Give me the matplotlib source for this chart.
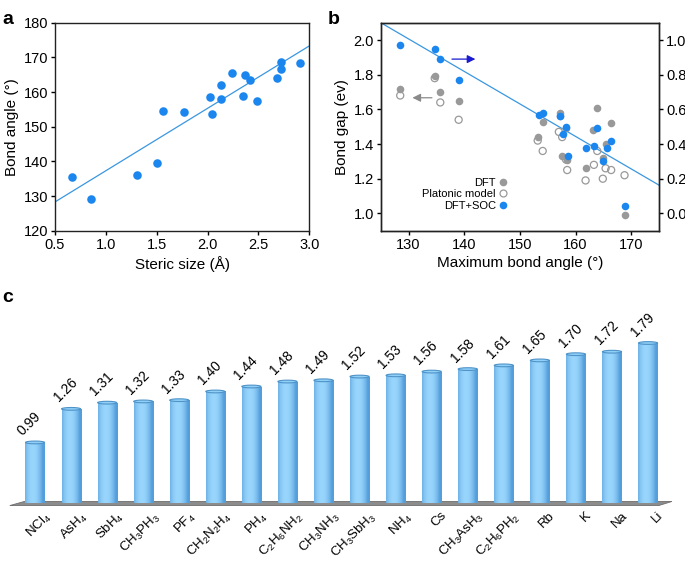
import numpy as np
import matplotlib
matplotlib.use('Agg')
import matplotlib.pyplot as plt
from matplotlib.patches import Polygon, Ellipse
from matplotlib.lines import Line2D

plt.rcParams['font.family'] = ['Liberation Sans', 'DejaVu Sans']
plt.rcParams['mathtext.default'] = 'regular'

# ---- panel a: bond angle vs steric size
steric_size = [0.67, 0.85, 1.31, 1.50, 1.56, 1.77, 2.02, 2.04, 2.13, 2.13, 2.24,
               2.37, 2.42, 2.35, 2.49, 2.68, 2.72, 2.72, 2.91]
bond_angle = [135.4, 129.1, 136.2, 139.5, 154.5, 154.3, 158.5, 153.6, 162.0, 157.9,
              165.6, 165.0, 163.4, 158.8, 157.4, 164.0, 168.8, 166.6, 168.3]
fit_a = (18.0, 119.3)   # slope, intercept

# ---- panel b: band gap vs maximum bond angle
dft_angle = [128.5, 134.7, 135.7, 139.0, 153.3, 154.2, 157.2, 157.2, 158.3, 157.6,
             158.5, 161.8, 163.1, 163.9, 165.4, 165.0, 166.4, 168.8]
dft_gap = [1.72, 1.79, 1.70, 1.65, 1.44, 1.53, 1.58, 1.56, 1.49, 1.33,
           1.31, 1.26, 1.48, 1.61, 1.40, 1.32, 1.52, 0.99]
plat_angle = [128.5, 134.7, 135.7, 139.0, 153.2, 154.1, 157.0, 157.6, 158.3, 158.5,
              161.8, 163.3, 163.9, 165.4, 166.4, 164.9, 168.8]
plat_gap = [1.68, 1.78, 1.64, 1.54, 1.42, 1.36, 1.47, 1.44, 1.31, 1.25,
            1.19, 1.28, 1.36, 1.26, 1.25, 1.20, 1.22]
soc_angle = [128.5, 134.8, 135.7, 139.0, 153.4, 154.2, 157.2, 158.3, 157.8, 158.6,
             161.9, 163.4, 163.9, 166.4, 165.6, 165.0, 168.8]
soc_gap = [0.97, 0.95, 0.89, 0.77, 0.57, 0.58, 0.56, 0.50, 0.46, 0.33,
           0.38, 0.39, 0.49, 0.42, 0.38, 0.30, 0.04]
fit_b = (-0.01875, 4.444)   # slope, intercept (left axis)

# ---- panel c: band gaps per A-site
cations = ['NCl$_4$', 'AsH$_4$', 'SbH$_4$', 'CH$_3$PH$_3$', 'PF$_4$', 'CH$_2$N$_2$H$_4$',
           'PH$_4$', 'C$_2$H$_6$NH$_2$', 'CH$_3$NH$_3$', 'CH$_3$SbH$_3$', 'NH$_4$', 'Cs',
           'CH$_3$AsH$_3$', 'C$_2$H$_6$PH$_2$', 'Rb', 'K', 'Na', 'Li']
gaps = [0.99, 1.26, 1.31, 1.32, 1.33, 1.40, 1.44, 1.48, 1.49, 1.52, 1.53, 1.56,
        1.58, 1.61, 1.65, 1.70, 1.72, 1.79]

blue = '#1b87ee'
grey = '#999999'
line_blue = '#3a97e0'

fig = plt.figure(figsize=(6.85, 5.62), dpi=100)


def style_axes(ax):
    for s in ax.spines.values():
        s.set_linewidth(1.0)
        s.set_color('#222222')
    ax.tick_params(direction='out', length=3, width=1, labelsize=10.5, pad=2)


# panel a
ax1 = fig.add_axes([0.0803, 0.5895, 0.3712, 0.3701])
ax1.scatter(steric_size, bond_angle, s=38, color=blue, zorder=3, linewidths=0)
xs = np.array([0.5, 3.0])
ax1.plot(xs, fit_a[0] * xs + fit_a[1], color=line_blue, lw=0.9)
ax1.set_xlim(0.5, 3.0)
ax1.set_ylim(120, 180)
ax1.set_xticks([0.5, 1.0, 1.5, 2.0, 2.5, 3.0])
ax1.set_yticks(range(120, 181, 10))
ax1.set_xlabel('Steric size (Å)', fontsize=11, labelpad=3)
ax1.set_ylabel('Bond angle (°)', fontsize=11, labelpad=3)
style_axes(ax1)
fig.text(0.003, 0.965, 'a', fontsize=14, fontweight='bold', va='center')

# panel b
ax2 = fig.add_axes([0.5558, 0.5895, 0.4063, 0.3701])
ax2.scatter(dft_angle, dft_gap, s=30, color=grey, linewidths=0, zorder=2)
ax2.scatter(plat_angle, plat_gap, s=26, facecolor='none', edgecolor=grey,
            linewidths=0.9, zorder=2)
ax2r = ax2.twinx()
ax2r.scatter(soc_angle, soc_gap, s=30, color=blue, linewidths=0, zorder=3)
xb = np.array([125, 175])
ax2.plot(xb, fit_b[0] * xb + fit_b[1], color=line_blue, lw=0.9, zorder=1)
ax2.set_xlim(125, 175)
ax2.set_ylim(0.9, 2.1)
ax2r.set_ylim(-0.1, 1.1)
ax2.set_xticks([130, 140, 150, 160, 170])
ax2.set_yticks([1.0, 1.2, 1.4, 1.6, 1.8, 2.0])
ax2r.set_yticks([0.0, 0.2, 0.4, 0.6, 0.8, 1.0])
ax2.set_xlabel('Maximum bond angle (°)', fontsize=11, labelpad=3)
ax2.set_ylabel('Bond gap (ev)', fontsize=11, labelpad=3)
style_axes(ax2)
style_axes(ax2r)
ax2r.annotate('', xy=(142.5, 0.89), xytext=(137.3, 0.89),
              arrowprops=dict(arrowstyle='-|>', color='#1a1ad0', lw=0.9,
                              mutation_scale=12))
ax2.annotate('', xy=(130.2, 1.667), xytext=(134.7, 1.667),
             arrowprops=dict(arrowstyle='-|>', color='#8a8a8a', lw=0.9,
                             mutation_scale=12))
handles = [Line2D([], [], ls='', marker='o', ms=5.5, color=grey, mec='none'),
           Line2D([], [], ls='', marker='o', ms=5, mfc='none', mec=grey, mew=0.9),
           Line2D([], [], ls='', marker='o', ms=5.5, color=blue, mec='none')]
ax2r.legend(handles, ['DFT', 'Platonic model', 'DFT+SOC'], markerfirst=False,
            frameon=False, fontsize=8, loc='lower right', bbox_to_anchor=(0.47, 0.07),
            handlelength=0.6, handletextpad=0.3, labelspacing=0.12, borderpad=0)
fig.text(0.478, 0.965, 'b', fontsize=14, fontweight='bold', va='center')

# panel c
ax3 = fig.add_axes([0.0143, 0.1044, 0.9686, 0.3317])
ax3.set_xlim(-0.7, len(gaps) - 0.3)
ax3.set_ylim(0.5, 2.0)
ax3.axis('off')
floor = Polygon([(0.0, -0.012), (0.022, 0.01), (0.998, 0.01), (0.978, -0.012)],
                closed=True, transform=ax3.transAxes, facecolor='#8c8c8c',
                edgecolor='#6e6e6e', lw=0.6, zorder=1, clip_on=False)
ax3.add_patch(floor)

grad = np.linspace(0, 1, 64)
prof = 1 - (2 * grad - 0.8) ** 2
c_dark = np.array([0.33, 0.62, 0.86])
c_light = np.array([0.60, 0.84, 0.99])
img = (c_dark[None, :] + (c_light - c_dark)[None, :] * np.clip(prof, 0, 1)[:, None])
img = img[None, :, :]
bw = 0.53
bars = ax3.bar(range(len(gaps)), np.array(gaps) - 0.5, bottom=0.5, width=bw,
               color='none', edgecolor='none', zorder=2)
for i, (b, v) in enumerate(zip(bars, gaps)):
    im = ax3.imshow(img, extent=[i - bw / 2, i + bw / 2, 0.5, v], aspect='auto',
                    zorder=2, interpolation='bilinear')
    im.set_clip_path(b)
    ax3.add_patch(Ellipse((i, v), bw, 0.022, facecolor='#8fd0f8',
                          edgecolor='#4f93c8', lw=0.8, zorder=3))
    ax3.text(i - 0.28, v + 0.035, f'{v:.2f}', rotation=45, ha='left', va='bottom',
             rotation_mode='anchor', fontsize=10)
    ax3.text(i + 0.25, 0.45, cations[i], rotation=45, ha='right', va='top',
             rotation_mode='anchor', fontsize=9.5)
fig.text(0.003, 0.47, 'c', fontsize=14, fontweight='bold', va='center')

fig.savefig('out.png', dpi=100)
